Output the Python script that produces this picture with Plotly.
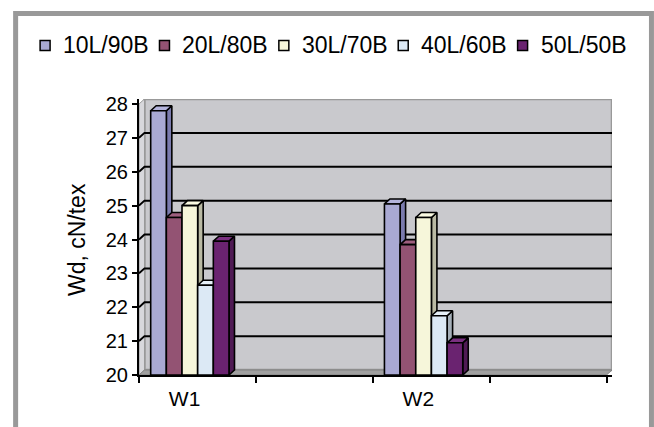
import plotly.graph_objects as go

# ---- data -------------------------------------------------------------
categories = ["W1", "W2"]
series_names = ["10L/90B", "20L/80B", "30L/70B", "40L/60B", "50L/50B"]
w1_values = [27.8, 24.65, 25.0, 22.65, 23.95]
w2_values = [25.05, 23.85, 24.65, 21.75, 20.95]
y_tick_values = [20, 21, 22, 23, 24, 25, 26, 27, 28]
y_axis_title = "Wd, cN/tex"

# ---- style ------------------------------------------------------------
front_colors = ["#A9A9D3", "#935373", "#F6F6DA", "#DCE9F5", "#6A2370"]
top_colors = ["#B4B4DC", "#9E5E7E", "#FAFAE2", "#E6F0F8", "#7A3080"]
side_colors = ["#7B7BAE", "#6E3E56", "#B9B9A3", "#A5AFB8", "#4F1A54"]
FONT = "Arial, Liberation Sans, sans-serif"

W, H = 654, 427
N_SLOTS = 4                 # W1, gap, W2, gap
Y_MIN, Y_MAX = 20, 28
UX = 117.0                  # px per category slot
UY = 33.875                 # px per y unit
DX = 5.5 / UX               # depth offset (x) in data units
DY = 5.0 / UY               # depth offset (y) in data units
ML, MB = 139, 52
PW = (N_SLOTS + DX) * UX
PH = (Y_MAX - Y_MIN + DY) * UY
MR = W - ML - PW
MT = H - MB - PH

BAR_W = 0.134               # bar width in slot units
FIRST_OFF = 0.10            # first bar offset inside slot
LABEL_OFF = 0.39            # category label position inside slot
slot_of = {"W1": 0, "W2": 2}
values_of = {"W1": w1_values, "W2": w2_values}


def px_x(px):
    return (px - ML) / PW


def px_y(py):
    return (H - MB - py) / PH


fig = go.Figure()


def face(xs, ys, fill):
    fig.add_trace(go.Scatter(
        x=xs + [xs[0]], y=ys + [ys[0]], mode="lines", fill="toself",
        fillcolor=fill, line=dict(color="black", width=1.6),
        hoverinfo="skip", showlegend=False))


# 3D columns: side, top, then front, left to right
for cat in categories:
    base = slot_of[cat]
    for i, v in enumerate(values_of[cat]):
        x0 = base + FIRST_OFF + i * BAR_W
        x1 = x0 + BAR_W
        face([x1, x1 + DX, x1 + DX, x1], [Y_MIN, Y_MIN + DY, v + DY, v], side_colors[i])
        face([x0, x1, x1 + DX, x0 + DX], [v, v, v + DY, v + DY], top_colors[i])
        face([x0, x1, x1, x0], [Y_MIN, Y_MIN, v, v], front_colors[i])

shapes = []
# back wall
shapes.append(dict(type="rect", xref="x", yref="y", layer="below",
                   x0=DX, x1=N_SLOTS + DX, y0=Y_MIN + DY, y1=Y_MAX + DY,
                   fillcolor="#C9C9CD", line=dict(color="#999999", width=2.5)))
# left side wall
shapes.append(dict(type="path", xref="x", yref="y", layer="below",
                   path=f"M 0,{Y_MIN} L {DX},{Y_MIN + DY} L {DX},{Y_MAX + DY} L 0,{Y_MAX} Z",
                   fillcolor="#D8D8DC", line=dict(color="#999999", width=1)))
# floor
shapes.append(dict(type="path", xref="x", yref="y", layer="below",
                   path=f"M 0,{Y_MIN} L {N_SLOTS},{Y_MIN} L {N_SLOTS + DX},{Y_MIN + DY} L {DX},{Y_MIN + DY} Z",
                   fillcolor="#A0A0A0", line=dict(color="#808080", width=1)))
# gridlines on the walls
for yv in y_tick_values[1:-1]:
    shapes.append(dict(type="path", xref="x", yref="y", layer="below",
                       path=f"M 0,{yv} L {DX},{yv + DY} L {N_SLOTS + DX},{yv + DY}",
                       line=dict(color="black", width=2)))

# chart frame
shapes.append(dict(type="rect", xref="paper", yref="paper",
                   x0=px_x(15.5), x1=px_x(652), y0=px_y(13.5), y1=px_y(440),
                   line=dict(color="#999999", width=5), fillcolor="rgba(0,0,0,0)"))

# legend
annotations = []
LEG_X0, LEG_PITCH, LEG_Y = 40.0, 119.5, 45.5
SQ = 10
for i, name in enumerate(series_names):
    sx = LEG_X0 + i * LEG_PITCH
    shapes.append(dict(type="rect", xref="paper", yref="paper",
                       x0=px_x(sx), x1=px_x(sx + SQ),
                       y0=px_y(LEG_Y + SQ / 2), y1=px_y(LEG_Y - SQ / 2),
                       fillcolor=front_colors[i], line=dict(color="black", width=1.5)))
    annotations.append(dict(xref="paper", yref="paper", x=px_x(sx + SQ + 11), y=px_y(LEG_Y),
                            xanchor="left", yanchor="middle", showarrow=False,
                            text=name, font=dict(family=FONT, size=23, color="black")))

annotations.append(dict(xref="paper", yref="paper", x=px_x(77), y=px_y(240),
                        xanchor="center", yanchor="middle", showarrow=False, textangle=-90,
                        text=y_axis_title, font=dict(family=FONT, size=23, color="black")))

fig.update_layout(
    width=W, height=H,
    margin=dict(l=ML, r=MR, t=MT, b=MB, pad=0),
    paper_bgcolor="white", plot_bgcolor="rgba(0,0,0,0)",
    showlegend=False,
    shapes=shapes, annotations=annotations,
    font=dict(family=FONT, color="black"),
    xaxis=dict(range=[0, N_SLOTS + DX], showgrid=False, zeroline=False,
               showline=True, linecolor="black", linewidth=2,
               tickvals=[slot_of[c] + LABEL_OFF for c in categories], ticktext=categories,
               ticks="outside", ticklen=4, tickcolor="rgba(0,0,0,0)",
               tickfont=dict(family=FONT, size=21, color="black"),
               minor=dict(tickvals=list(range(N_SLOTS + 1)), ticks="outside", ticklen=6,
                          tickwidth=1.5, tickcolor="black", showgrid=False),
               fixedrange=True),
    yaxis=dict(range=[Y_MIN, Y_MAX + DY], showgrid=False, zeroline=False,
               showline=True, linecolor="black", linewidth=2,
               tickvals=y_tick_values, ticks="outside", ticklen=5, tickwidth=1.5,
               tickcolor="black", tickfont=dict(family=FONT, size=20, color="black"),
               fixedrange=True),
)

fig.write_html("out.html")
